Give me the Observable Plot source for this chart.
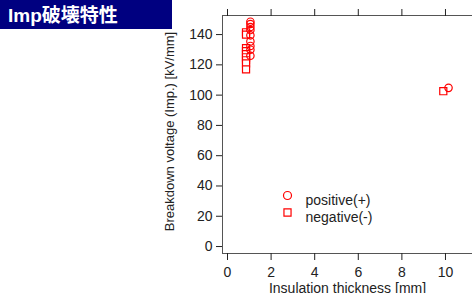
<!DOCTYPE html>
<html>
<head>
<meta charset="utf-8">
<script src="https://cdn.jsdelivr.net/npm/d3@7"></script>
<script src="https://cdn.jsdelivr.net/npm/@observablehq/plot@0.6"></script>
<style>
  html, body { margin: 0; padding: 0; background: #fff; }
  #wrap { position: relative; width: 472px; height: 293px; overflow: hidden; }
  #wrap svg { position: absolute; left: 0; top: 0; }
  #title { position: absolute; left: 0; top: 0; width: 172px; height: 29px; background: #000080; color: #fff; z-index: 2;
    font: bold 19px "Liberation Sans", "Noto Sans CJK JP", sans-serif; line-height: 28px; padding-left: 8px; box-sizing: border-box; }
  #title span { font-family: "Noto Sans CJK JP", sans-serif; font-weight: bold; }
</style>
</head>
<body>
<div id="wrap"><div id="title">Imp<span>破壊特性</span></div></div>
<script>
const negativeX = [0.85, 0.85, 0.85, 0.85, 0.85, 0.85, 0.85, 0.85, 0.85, 9.9];
const negativeY = [141.5, 140, 131, 129, 127, 125, 123, 121, 117, 102.6];
const positiveX = [1.05, 1.05, 1.05, 1.05, 1.05, 1.05, 1.05, 1.05, 1.05, 10.14];
const positiveY = [148.5, 147, 145, 143, 139.5, 135.5, 132.5, 130, 126, 104.8];
const xTicks = [0, 2, 4, 6, 8, 10];
const yTicks = [0, 20, 40, 60, 80, 100, 120, 140];
const seriesLabels = ["positive(+)", "negative(-)"];
const xLabel = "Insulation thickness [mm]";
const yLabel = "Breakdown voltage (Imp.) [kV/mm]";
const xDomain = [-0.23, 11.24];
const yDomain = [-4.6, 152.6];

const neg = negativeX.map((x, i) => ({x, y: negativeY[i]}));
const pos = positiveX.map((x, i) => ({x, y: positiveY[i]}));

const chart = Plot.plot({
  width: 472, height: 293,
  marginLeft: 222, marginTop: 15, marginRight: 0, marginBottom: 40,
  style: {fontFamily: "'Liberation Sans', Arial, sans-serif", fontSize: "14px", color: "#222", background: "transparent", overflow: "visible"},
  x: {domain: xDomain},
  y: {domain: yDomain},
  marks: [
    Plot.ruleX([xDomain[0]], {stroke: "#555"}),
    Plot.ruleY(yDomain, {stroke: "#555"}),
    Plot.axisY({ticks: yTicks, tickSize: 6, tickPadding: 4, stroke: "#222", fontSize: 14, label: null}),
    Plot.axisX({ticks: xTicks, tickSize: 7, tickPadding: 7, stroke: "#222", fontSize: 14, label: null}),
    Plot.axisX({anchor: "top", ticks: xTicks, tickSize: 7, stroke: "#222", tickFormat: () => "", label: null}),
    Plot.text([xLabel], {text: d => d, frameAnchor: "bottom", lineAnchor: "middle", dy: 35, fontSize: 14, fill: "#222"}),
    Plot.text([yLabel], {text: d => d, frameAnchor: "left", textAnchor: "middle", lineAnchor: "middle", dx: -53, dy: -3, rotate: -90, fontSize: 13, fill: "#222"}),
    Plot.dot(neg, {x: "x", y: "y", symbol: "square", r: 4, stroke: "red", fill: "white", strokeWidth: 1.2}),
    Plot.dot(pos, {x: "x", y: "y", symbol: "circle", r: 3.7, stroke: "red", fill: "white", fillOpacity: 0, strokeWidth: 1.2}),
    Plot.dot([seriesLabels[0]], {frameAnchor: "top-left", dx: 65, dy: 180, symbol: "circle", r: 4, stroke: "red", strokeWidth: 1.2}),
    Plot.dot([seriesLabels[1]], {frameAnchor: "top-left", dx: 65, dy: 197, symbol: "square", r: 4, stroke: "red", strokeWidth: 1.2}),
    Plot.text([seriesLabels[0]], {text: d => d, frameAnchor: "top-left", dx: 83, dy: 180, textAnchor: "start", fontSize: 14, fill: "#222"}),
    Plot.text([seriesLabels[1]], {text: d => d, frameAnchor: "top-left", dx: 83, dy: 197, textAnchor: "start", fontSize: 14, fill: "#222"})
  ]
});
document.getElementById("wrap").prepend(chart);
</script>
</body>
</html>
